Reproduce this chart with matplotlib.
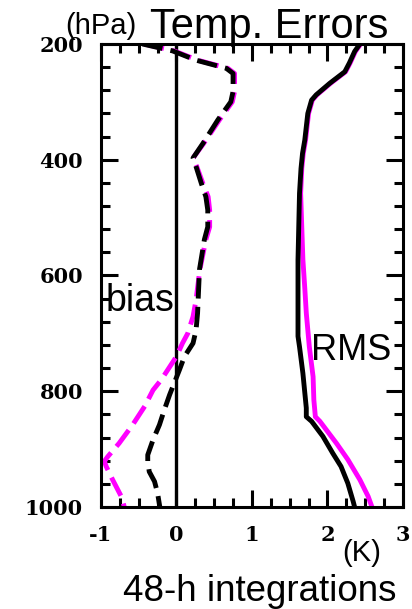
#!/usr/bin/env python3
"""
Temperature error profiles (bias and RMS) for 48-h integrations.
"""

import matplotlib
matplotlib.use('Agg')
import matplotlib.pyplot as plt
from matplotlib.ticker import MultipleLocator

# Bias profiles (K) against pressure (hPa)
p_bias_black = [200, 212, 228, 242, 251, 282, 300, 331, 372, 397, 412, 441, 464, 487,
                516, 538, 590, 665, 694, 717, 740, 763, 806, 832, 858, 884, 910, 922,
                939, 956, 976, 1000]
bias_black = [-0.45, -0.05, 0.26, 0.66, 0.75, 0.75, 0.72, 0.55, 0.35, 0.22, 0.26, 0.33,
              0.39, 0.415, 0.415, 0.37, 0.305, 0.28, 0.26, 0.22, 0.106, 0.04, -0.09,
              -0.16, -0.225, -0.31, -0.38, -0.38, -0.36, -0.29, -0.25, -0.22]

p_bias_magenta = [200, 212, 228, 242, 251, 282, 300, 331, 372, 397, 412, 441, 464, 487,
                  516, 538, 590, 642, 671, 700, 717, 740, 754, 780, 798, 826, 858, 890,
                  913, 921, 930, 953, 982, 1000]
bias_magenta = [-0.43, -0.03, 0.28, 0.68, 0.77, 0.77, 0.74, 0.57, 0.36, 0.22, 0.27, 0.35,
                0.42, 0.44, 0.44, 0.39, 0.31, 0.26, 0.22, 0.15, 0.08, 0.0, -0.07, -0.20,
                -0.31, -0.42, -0.58, -0.76, -0.91, -0.955, -0.93, -0.845, -0.73, -0.69]

# RMS profiles (K)
p_rms_black = [200, 213, 233, 248, 268, 288, 297, 320, 343, 366, 389, 415, 458, 516, 573,
               622, 705, 723, 769, 829, 844, 852, 878, 907, 930, 959, 990, 1000]
rms_black = [2.43, 2.36, 2.29, 2.23, 2.03, 1.85, 1.79, 1.74, 1.72, 1.70, 1.67, 1.65, 1.63,
             1.62, 1.61, 1.61, 1.61, 1.63, 1.675, 1.72, 1.72, 1.79, 1.94, 2.07, 2.18,
             2.27, 2.34, 2.36]

p_rms_magenta = [200, 213, 233, 248, 268, 288, 297, 320, 343, 366, 389, 415, 458, 516,
                 573, 622, 665, 723, 775, 815, 844, 852, 890, 918, 953, 982, 1000]
rms_magenta = [2.44, 2.37, 2.30, 2.24, 2.04, 1.86, 1.80, 1.75, 1.73, 1.71, 1.68, 1.66,
               1.645, 1.66, 1.675, 1.70, 1.72, 1.76, 1.81, 1.82, 1.84, 1.90, 2.12, 2.27,
               2.43, 2.54, 2.59]

x_limits = (-1, 3)
p_limits = (1000, 200)
p_ticks = [200, 400, 600, 800, 1000]
x_ticks = [-1, 0, 1, 2, 3]

SANS = 'Liberation Sans'


def create_plot():
    plt.rcParams['axes.unicode_minus'] = False

    fig = plt.figure(figsize=(4.12, 6.09), dpi=100)
    ax = fig.add_axes([0.245, 0.1675, 0.733, 0.7603])

    # zero line
    ax.axvline(0, color='black', linewidth=2.4, zorder=1)

    # magenta first, black on top
    ax.plot(bias_magenta, p_bias_magenta, color='#ff00ff', linewidth=3.5,
            dashes=(4.2, 1.7), zorder=2)
    ax.plot(bias_black, p_bias_black, color='black', linewidth=3.5,
            dashes=(4.2, 1.7), zorder=3)
    ax.plot(rms_magenta, p_rms_magenta, color='#ff00ff', linewidth=3.5, zorder=2)
    ax.plot(rms_black, p_rms_black, color='black', linewidth=3.5, zorder=3)

    ax.set_xlim(*x_limits)
    ax.set_ylim(*p_limits)
    ax.set_xticks(x_ticks)
    ax.set_yticks(p_ticks)
    ax.xaxis.set_minor_locator(MultipleLocator(0.25))
    ax.yaxis.set_minor_locator(MultipleLocator(40))

    ax.tick_params(which='both', direction='in', top=True, right=True, width=2.2)
    ax.tick_params(which='major', length=12, pad=13)
    ax.tick_params(which='minor', length=6.5)
    for lab in ax.get_xticklabels() + ax.get_yticklabels():
        lab.set_family('DejaVu Serif')
        lab.set_fontsize(15)
        lab.set_fontweight('bold')
    for sp in ax.spines.values():
        sp.set_linewidth(2.2)

    # labels
    fig.text(65 / 412, 1 - 34 / 609, '(hPa)', family=SANS, fontsize=21,
             ha='left', va='baseline')
    fig.text(150 / 412, 1 - 38 / 609, 'Temp. Errors', family=SANS, fontsize=30,
             ha='left', va='baseline')
    fig.text(106 / 412, 1 - 311 / 609, 'bias', family=SANS, fontsize=27,
             ha='left', va='baseline')
    fig.text(311 / 412, 1 - 360 / 609, 'RMS', family=SANS, fontsize=26,
             ha='left', va='baseline')
    fig.text(342 / 412, 1 - 561 / 609, '(K)', family=SANS, fontsize=21,
             ha='left', va='baseline')
    fig.text(123 / 412, 1 - 601 / 609, '48-h integrations', family=SANS, fontsize=26.5,
             ha='left', va='baseline')

    fig.savefig('out.png', dpi=100)


if __name__ == "__main__":
    create_plot()
